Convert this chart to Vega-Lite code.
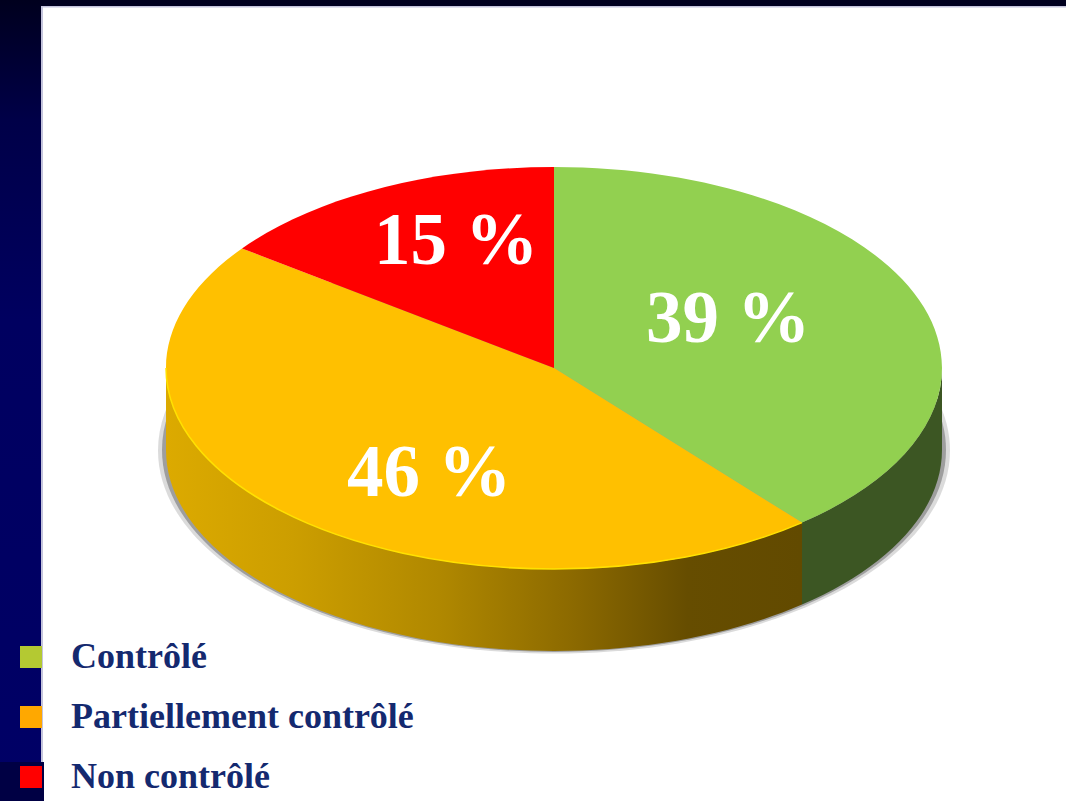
{
"$schema":"https://vega.github.io/schema/vega-lite/v6.json",
"autosize":{"type":"fit","contains":"padding"},
"width":1066,"height":801,"padding":0,"background":"#ffffff",
"view":{"stroke":null},
"data":{"values":[
{"status":"Contrôlé","share":39,"label":"39 %"},
{"status":"Partiellement contrôlé","share":46,"label":"46 %"},
{"status":"Non contrôlé","share":15,"label":"15 %"}
]},
"layer":[
{"data":{"values":[{"part":"slide background"}]},
 "mark":{"type":"point","filled":true,"opacity":1,"size":4,"strokeWidth":0,
  "shape":"M-533,-400.5H533V400.5H-533Z",
  "fill":{"gradient":"linear","x1":0,"y1":0,"x2":0,"y2":1,"stops":[{"offset":0,"color":"#00001e"},{"offset":0.15,"color":"#000048"},{"offset":0.4,"color":"#000060"},{"offset":1,"color":"#000066"}]}},
 "encoding":{}},
{"data":{"values":[{"part":"panel edge"}]},
 "mark":{"type":"point","filled":true,"opacity":1,"size":4,"strokeWidth":0,"fill":"#c4c4dc",
  "shape":"M-492,-394.5H533V400.5H-492Z"},"encoding":{}},
{"data":{"values":[{"part":"panel"}]},
 "mark":{"type":"point","filled":true,"opacity":1,"size":4,"strokeWidth":0,"fill":"#ffffff",
  "shape":"M-490,-393H533V400.5H-490Z"},"encoding":{}},
{"data":{"values":[{"part":"legend band"}]},
 "mark":{"type":"point","filled":true,"opacity":1,"size":4,"strokeWidth":0,"fill":"#000044",
  "shape":"M-533,361.5H-489V400.5H-533Z"},"encoding":{}},
{"mark":{"type":"circle","opacity":1,"size":4},
 "encoding":{
  "color":{"field":"status","type":"nominal",
   "scale":{"domain":["Contrôlé","Partiellement contrôlé","Non contrôlé"],"range":["#b4c932","#ffa800","#ff0000"]},
   "legend":{"title":null,"orient":"none","legendX":13,"legendY":639,"padding":0,"symbolType":"square","symbolSize":484,"symbolStrokeWidth":0,"symbolOpacity":1,
    "labelFont":"Liberation Serif","labelFontWeight":"bold","labelFontSize":36,"labelColor":"#14296f","labelOffset":22,"rowPadding":24,"labelLimit":500}
  }}},
{"data":{"values":[{"part":"shadow outer"}]},
 "mark":{"type":"point","filled":true,"opacity":0.14,"size":4,"strokeWidth":0,"fill":"#000000",
  "shape":"M-375,50A396 203 0 0 1 417,50A396 203 0 0 1 -375,50Z"},"encoding":{}},
{"data":{"values":[{"part":"shadow inner"}]},
 "mark":{"type":"point","filled":true,"opacity":0.28,"size":4,"strokeWidth":0,"fill":"#000000",
  "shape":"M-371,49.5A392 202 0 0 1 413,49.5A392 202 0 0 1 -371,49.5Z"},"encoding":{}},
{"data":{"values":[{"part":"green wall"}]},
 "mark":{"type":"point","filled":true,"opacity":1,"size":4,"strokeWidth":0,"fill":"#3c5623",
  "shape":"M409,-32.5A388 201 0 0 1 269,122.1L269,204.1A388 201 0 0 0 409,49.5Z"},"encoding":{}},
{"data":{"values":[{"part":"orange wall"}]},
 "mark":{"type":"point","filled":true,"opacity":1,"size":4,"strokeWidth":0,
  "shape":"M-367,-32.5L-367,49.5A388 201 0 0 0 21,250.5A388 201 0 0 0 269,204.1L269,122.1A388 201 0 0 1 21,168.5A388 201 0 0 1 -367,-32.5Z",
  "fill":{"gradient":"linear","x1":0,"y1":0,"x2":1,"y2":0,"stops":[{"offset":0,"color":"#dcaa00"},{"offset":0.2,"color":"#cc9e00"},{"offset":0.43,"color":"#b08800"},{"offset":0.65,"color":"#8a6800"},{"offset":0.82,"color":"#664d00"},{"offset":1,"color":"#624a00"}]}},
 "encoding":{}},
{"mark":{"type":"point","filled":true,"opacity":1,"size":4,"strokeWidth":0},
 "encoding":{
  "shape":{"field":"share","type":"nominal","legend":null,
   "scale":{"domain":[39,46,15],
    "range":["M21,-32.5L21,-233.5A388 201 0 0 1 409,-32.5A388 201 0 0 1 269,122.1Z","M21,-32.5L269,122.1A388 201 0 0 1 21,168.5A388 201 0 0 1 -367,-32.5A388 201 0 0 1 -291,-152Z","M21,-32.5L-291,-152A388 201 0 0 1 21,-233.5Z"]}},
  "fill":{"field":"share","type":"nominal","legend":null,
   "scale":{"domain":[39,46,15],"range":["#92d050","#ffc000","#ff0000"]}}
  }},
{"data":{"values":[{"part":"rim highlight"}]},
 "mark":{"type":"point","filled":false,"opacity":1,"size":4,"strokeWidth":1.5,"stroke":"#ffe100",
  "shape":"M269,122.1A388 201 0 0 1 21,168.5A388 201 0 0 1 -367,-32.5"},"encoding":{}},
{"mark":{"type":"text","font":"Liberation Serif","fontWeight":"bold","fontSize":73,"color":"#ffffff","align":"center","baseline":"alphabetic"},
 "encoding":{
  "text":{"field":"label","type":"nominal"},
  "x":{"field":"share","type":"quantitative","axis":null,"scale":{"domain":[15,39,46],"range":[456,728,429],"nice":false,"zero":false}},
  "y":{"field":"share","type":"quantitative","axis":null,"scale":{"domain":[15,39,46],"range":[264,342,496],"nice":false,"zero":false}}
 }}
]
}
